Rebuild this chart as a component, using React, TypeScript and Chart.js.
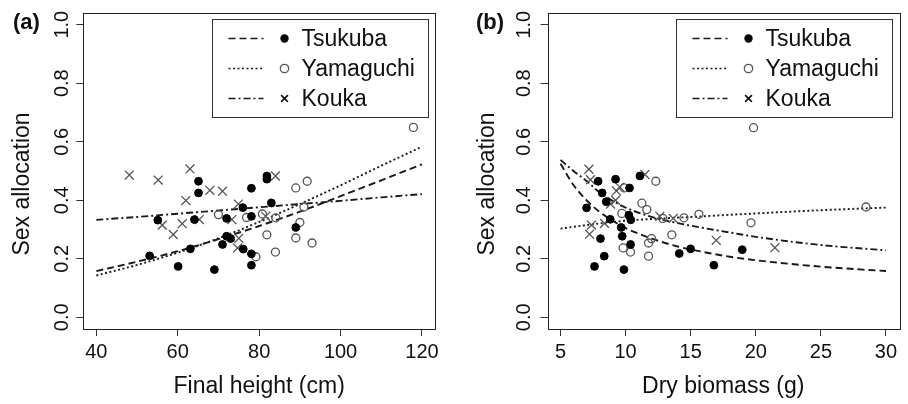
import React, { useEffect, useRef } from "react";
import { Chart, registerables } from "chart.js";

Chart.register(...registerables);

const FONT = '"Liberation Sans", Arial, Helvetica, sans-serif';
Chart.defaults.font.family = FONT;
Chart.defaults.color = "#111";

// ---------- shared ----------
const seriesNames = ["Tsukuba", "Yamaguchi", "Kouka"];
const allocTicks = [0, 0.2, 0.4, 0.6, 0.8, 1.0];
const yTitle = "Sex allocation";

// ---------- panel (a): final height ----------
const heightTicks = [40, 60, 80, 100, 120];
const tsukubaHeight = [55.1, 53.1, 60.1, 63.1, 64.1, 65.1, 65.1, 69.0, 71.0, 72.0, 72.0, 73.0, 76.0, 76.1, 78.1, 78.1, 78.1, 78.1, 81.9, 81.9, 83.0, 89.0];
const tsukubaAllocH = [0.332, 0.21, 0.174, 0.234, 0.334, 0.465, 0.425, 0.163, 0.249, 0.338, 0.277, 0.269, 0.375, 0.233, 0.441, 0.345, 0.217, 0.178, 0.483, 0.472, 0.391, 0.307];
const yamaguchiHeight = [70.0, 76.9, 79.2, 80.8, 81.9, 84.1, 84.0, 89.0, 91.8, 90.0, 89.0, 93.0, 91.0, 117.9];
const yamaguchiAllocH = [0.351, 0.341, 0.207, 0.353, 0.282, 0.34, 0.223, 0.442, 0.465, 0.324, 0.271, 0.254, 0.377, 0.649];
const koukaHeight = [48.1, 55.2, 56.2, 58.9, 61.1, 62.0, 63.0, 65.3, 67.9, 71.0, 73.3, 74.9, 75.0, 74.7, 84.0, 81.6];
const koukaAllocH = [0.486, 0.469, 0.315, 0.283, 0.32, 0.399, 0.507, 0.334, 0.434, 0.431, 0.334, 0.387, 0.27, 0.237, 0.483, 0.345];

const fitHeightX = [40, 50, 60, 70, 80, 90, 100, 110, 120];
const tsukubaFitH = [0.158, 0.19, 0.226, 0.267, 0.312, 0.361, 0.414, 0.468, 0.523];
const yamaguchiFitH = [0.143, 0.179, 0.221, 0.27, 0.326, 0.387, 0.451, 0.518, 0.583];
const koukaFitH = [0.333, 0.343, 0.354, 0.365, 0.376, 0.387, 0.398, 0.41, 0.421];

// ---------- panel (b): dry biomass ----------
const massTicks = [5, 10, 15, 20, 25, 30];
const tsukubaMass = [7.0, 7.61, 7.89, 8.07, 8.2, 8.36, 8.51, 8.82, 9.23, 9.66, 9.74, 9.87, 10.25, 10.4, 10.3, 10.38, 11.1, 14.12, 14.99, 16.78, 18.96];
const tsukubaAllocM = [0.374, 0.174, 0.465, 0.269, 0.425, 0.209, 0.395, 0.335, 0.472, 0.307, 0.277, 0.163, 0.349, 0.333, 0.442, 0.249, 0.483, 0.218, 0.234, 0.178, 0.231];
const yamaguchiMass = [9.89, 9.71, 11.25, 11.63, 12.32, 9.81, 10.38, 11.76, 11.99, 11.76, 13.55, 12.86, 14.48, 15.63, 19.63, 19.83, 28.46];
const yamaguchiAllocM = [0.442, 0.355, 0.39, 0.368, 0.465, 0.237, 0.223, 0.254, 0.269, 0.209, 0.282, 0.338, 0.34, 0.352, 0.323, 0.648, 0.377];
const koukaMass = [7.18, 7.3, 7.38, 7.23, 8.38, 8.84, 9.23, 9.3, 9.55, 11.48, 12.63, 13.66, 16.96, 21.47];
const koukaAllocM = [0.506, 0.47, 0.315, 0.284, 0.321, 0.387, 0.4, 0.432, 0.445, 0.488, 0.345, 0.338, 0.263, 0.238];

const fitMassX = [5, 6, 7, 8, 9, 10, 12, 14, 16, 18, 20, 25, 30];
const tsukubaFitM = [0.525, 0.452, 0.4, 0.36, 0.33, 0.305, 0.269, 0.242, 0.223, 0.207, 0.195, 0.173, 0.158];
const koukaFitM = [0.538, 0.5, 0.466, 0.427, 0.398, 0.375, 0.343, 0.322, 0.305, 0.29, 0.275, 0.247, 0.229];
const fitMassYamX = [5, 7.5, 10, 15, 20, 25, 30];
const yamaguchiFitM = [0.303, 0.318, 0.33, 0.343, 0.355, 0.366, 0.375];

// ---------- styles ----------
const lineColor = "#1a1a1a";
const lineDashes = [[7, 4], [2, 2.5], [7, 3, 2, 3]];
const pointKinds = ["filled", "open", "cross"];

const zip = (xs: number[], ys: number[]) => xs.map((x, i) => ({ x, y: ys[i] }));

function pointDataset(kind: string, data: any[]) {
  if (kind === "filled")
    return { type: "scatter", data, pointStyle: "circle", pointRadius: 3.9, backgroundColor: "#000", borderColor: "#000", borderWidth: 1, showLine: false };
  if (kind === "open")
    return { type: "scatter", data, pointStyle: "circle", pointRadius: 4, backgroundColor: "rgba(0,0,0,0)", borderColor: "#555", borderWidth: 1.3, showLine: false };
  return { type: "scatter", data, pointStyle: "crossRot", pointRadius: 6.3, backgroundColor: "#555", borderColor: "#555", borderWidth: 1.3, showLine: false };
}

function lineDataset(dash: number[], data: any[]) {
  return {
    type: "line", data, showLine: true, borderColor: lineColor, borderWidth: 1.9, borderDash: dash,
    pointRadius: 0, pointHoverRadius: 0, fill: false, cubicInterpolationMode: "monotone",
  };
}

function drawSymbol(ctx: CanvasRenderingContext2D, kind: string, x: number, y: number) {
  ctx.save();
  if (kind === "filled") {
    ctx.fillStyle = "#000";
    ctx.beginPath(); ctx.arc(x, y, 4.2, 0, Math.PI * 2); ctx.fill();
  } else if (kind === "open") {
    ctx.strokeStyle = "#555"; ctx.lineWidth = 1.3;
    ctx.beginPath(); ctx.arc(x, y, 4.2, 0, Math.PI * 2); ctx.stroke();
  } else {
    ctx.strokeStyle = "#111"; ctx.lineWidth = 1.6;
    const d = 3.4;
    ctx.beginPath(); ctx.moveTo(x - d, y - d); ctx.lineTo(x + d, y + d);
    ctx.moveTo(x - d, y + d); ctx.lineTo(x + d, y - d); ctx.stroke();
  }
  ctx.restore();
}

const decorPlugin = {
  id: "panelDecor",
  afterDraw(chart: any, _args: any, opts: any) {
    const { ctx, chartArea: a, scales } = chart;
    ctx.save();
    // plot box
    ctx.strokeStyle = "#222";
    ctx.lineWidth = 1;
    ctx.strokeRect(Math.round(a.left) + 0.5, Math.round(a.top) + 0.5, Math.round(a.right - a.left), Math.round(a.bottom - a.top));
    // rotated y tick labels
    const ys = scales.y;
    ctx.fillStyle = "#111";
    ctx.font = `20px ${FONT}`;
    ctx.textAlign = "center";
    ctx.textBaseline = "middle";
    ys.ticks.forEach((t: any) => {
      const py = ys.getPixelForValue(t.value);
      ctx.save();
      ctx.translate(a.left - opts.yLabelOffset, py);
      ctx.rotate(-Math.PI / 2);
      ctx.fillText(Number(t.value).toFixed(1), 0, 0);
      ctx.restore();
    });
    // y axis title
    ctx.save();
    ctx.font = `23px ${FONT}`;
    ctx.translate(opts.yTitleX, opts.yTitleY);
    ctx.rotate(-Math.PI / 2);
    ctx.fillText(yTitle, 0, 0);
    ctx.restore();
    // panel tag
    ctx.font = `bold 22px ${FONT}`;
    ctx.textAlign = "left";
    ctx.fillText(opts.tag, opts.tagX, opts.tagY);
    // legend
    const bw = 216, bh = 98;
    const bx = a.right - 7.5 - bw;
    const by = a.top + 6;
    ctx.fillStyle = "#fff";
    ctx.fillRect(bx, by, bw, bh);
    ctx.strokeStyle = "#333";
    ctx.lineWidth = 1;
    ctx.strokeRect(Math.round(bx) + 0.5, Math.round(by) + 0.5, bw, bh);
    seriesNames.forEach((name, i) => {
      const ry = by + 19.5 + i * 30;
      ctx.save();
      ctx.strokeStyle = lineColor;
      ctx.lineWidth = 1.6;
      ctx.setLineDash(lineDashes[i]);
      ctx.beginPath(); ctx.moveTo(bx + 17, ry); ctx.lineTo(bx + 52, ry); ctx.stroke();
      ctx.restore();
      drawSymbol(ctx, pointKinds[i], bx + 73, ry);
      ctx.fillStyle = "#111";
      ctx.font = `23px ${FONT}`;
      ctx.textAlign = "left";
      ctx.textBaseline = "middle";
      ctx.fillText(name, bx + 90, ry + 1);
    });
    ctx.restore();
  },
};

interface PanelProps {
  left: number;
  tag: string;
  tagX: number;
  xTitle: string;
  xMin: number;
  xMax: number;
  xTicks: number[];
  points: { x: number; y: number }[][];
  fits: { x: number; y: number }[][];
  yAxisWidth: number;
  yTitleX: number;
  yLabelOffset: number;
  rightPad: number;
}

function Panel(p: PanelProps) {
  const ref = useRef<HTMLCanvasElement>(null);
  useEffect(() => {
    if (!ref.current) return;
    const datasets: any[] = [];
    p.points.forEach((d, i) => datasets.push(pointDataset(pointKinds[i], d)));
    p.fits.forEach((d, i) => datasets.push(lineDataset(lineDashes[i], d)));
    const chart = new Chart(ref.current, {
      type: "scatter",
      data: { datasets },
      plugins: [decorPlugin],
      options: {
        animation: false,
        responsive: true,
        maintainAspectRatio: false,
        layout: { padding: { top: 13, right: p.rightPad, bottom: 0, left: 0 } },
        plugins: {
          legend: { display: false },
          tooltip: { enabled: false },
          panelDecor: { tag: p.tag, tagX: p.tagX, tagY: 23, yLabelOffset: p.yLabelOffset, yTitleX: p.yTitleX, yTitleY: 184 },
        } as any,
        scales: {
          x: {
            type: "linear",
            min: p.xMin,
            max: p.xMax,
            afterBuildTicks: (axis: any) => { axis.ticks = p.xTicks.map((v) => ({ value: v })); },
            afterFit: (s: any) => { s.height = 75; },
            grid: { display: true, drawOnChartArea: false, drawTicks: true, tickLength: 7, color: "#333", lineWidth: 1 },
            border: { display: false },
            ticks: { font: { size: 20 }, padding: 4, color: "#111", maxRotation: 0, autoSkip: false, callback: (v: any) => String(v) },
            title: { display: true, text: p.xTitle, font: { size: 23 }, color: "#111", padding: { top: 0, bottom: 4 } },
          },
          y: {
            type: "linear",
            min: -0.04,
            max: 1.04,
            afterBuildTicks: (axis: any) => { axis.ticks = allocTicks.map((v) => ({ value: v })); },
            afterFit: (s: any) => { s.width = p.yAxisWidth; },
            grid: { display: true, drawOnChartArea: false, drawTicks: true, tickLength: 7, color: "#333", lineWidth: 1 },
            border: { display: false },
            ticks: { display: false },
            title: { display: false },
          },
        },
      } as any,
    });
    return () => chart.destroy();
  }, []);
  return (
    <div style={{ position: "absolute", left: p.left, top: 0, width: 454, height: 404 }}>
      <canvas ref={ref} />
    </div>
  );
}

export default function App() {
  return (
    <div style={{ position: "absolute", left: 0, top: 0, width: 908, height: 404, background: "#fff", overflow: "hidden" }}>
      <Panel
        left={0}
        tag="(a)"
        tagX={13}
        xTitle="Final height (cm)"
        xMin={36.8}
        xMax={123.2}
        xTicks={heightTicks}
        points={[zip(tsukubaHeight, tsukubaAllocH), zip(yamaguchiHeight, yamaguchiAllocH), zip(koukaHeight, koukaAllocH)]}
        fits={[zip(fitHeightX, tsukubaFitH), zip(fitHeightX, yamaguchiFitH), zip(fitHeightX, koukaFitH)]}
        yAxisWidth={83.3}
        yTitleX={23}
        yLabelOffset={21}
        rightPad={19}
      />
      <Panel
        left={454}
        tag="(b)"
        tagX={22}
        xTitle="Dry biomass (g)"
        xMin={4}
        xMax={31}
        xTicks={massTicks}
        points={[zip(tsukubaMass, tsukubaAllocM), zip(yamaguchiMass, yamaguchiAllocM), zip(koukaMass, koukaAllocM)]}
        fits={[zip(fitMassX, tsukubaFitM), zip(fitMassYamX, yamaguchiFitM), zip(fitMassX, koukaFitM)]}
        yAxisWidth={93.5}
        yTitleX={33.5}
        yLabelOffset={23}
        rightPad={9}
      />
    </div>
  );
}
